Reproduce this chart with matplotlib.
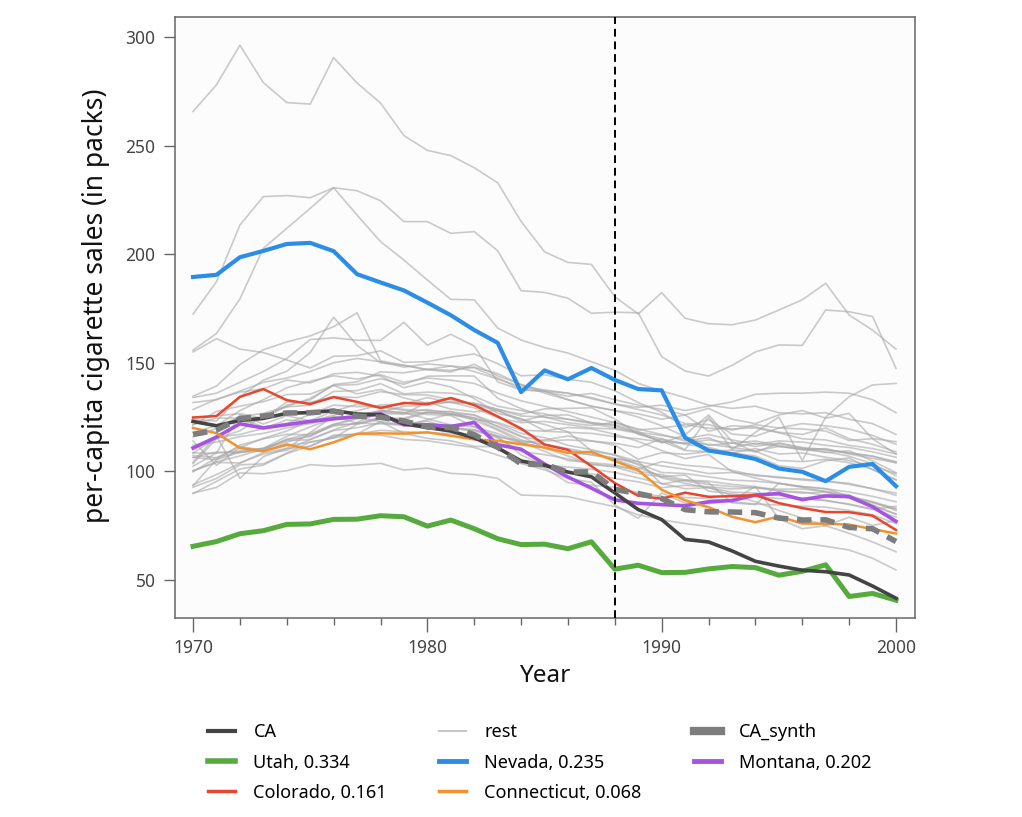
import matplotlib
matplotlib.use("Agg")
import matplotlib.pyplot as plt
from matplotlib.lines import Line2D

plt.rcParams['font.family'] = ['Noto Sans', 'DejaVu Sans']

years = list(range(1970, 2001))
treat_year = 1988

# treated unit and its synthetic copy
ca = [123.0, 121.0, 123.5, 124.4, 126.7, 127.1, 128.0, 126.4, 126.1, 121.9, 120.2, 118.6, 115.4, 110.8, 104.8, 102.8,
      99.7, 97.5, 90.1, 82.4, 77.8, 68.7, 67.5, 63.4, 58.6, 56.4, 54.5, 53.8, 52.3, 47.2, 41.6]
ca_synth = [117.0, 119.0, 124.3, 125.5, 126.9, 127.0, 127.8, 125.4, 124.9, 123.2, 120.4, 120.2, 116.9, 111.1, 103.4, 103.2,
            99.7, 99.8, 91.7, 89.8, 87.5, 82.4, 81.4, 81.3, 81.0, 78.5, 77.6, 77.7, 74.2, 73.6, 67.7]

# donors with weight
utah = [65.5, 67.7, 71.3, 72.7, 75.6, 75.8, 77.9, 78.0, 79.6, 79.1, 74.8, 77.6, 73.6, 69.0, 66.3, 66.5,
        64.4, 67.6, 55.0, 56.8, 53.4, 53.5, 55.1, 56.2, 55.7, 52.2, 54.0, 57.0, 42.4, 43.8, 40.7]
nevada = [189.5, 190.5, 198.6, 201.5, 204.7, 205.2, 201.4, 190.8, 187.0, 183.3, 177.7, 171.9, 165.1, 159.2, 136.5, 146.5,
          142.4, 147.6, 142.1, 137.9, 137.3, 115.5, 109.6, 107.9, 105.7, 101.3, 99.8, 95.5, 102.1, 103.4, 93.2]
montana = [110.8, 115.8, 121.9, 120.0, 121.5, 123.0, 124.2, 125.2, 126.5, 121.4, 121.5, 120.7, 122.5, 112.3, 110.2, 103.4,
           97.4, 92.3, 86.9, 85.3, 84.7, 84.2, 86.0, 86.6, 89.1, 89.8, 87.0, 88.7, 88.4, 83.7, 77.0]
colorado = [124.8, 125.5, 134.3, 137.9, 132.8, 131.0, 134.2, 132.0, 129.2, 131.5, 131.0, 133.8, 130.5, 125.3, 119.7, 112.4,
            109.9, 102.4, 94.6, 88.8, 87.4, 90.2, 88.3, 88.6, 89.1, 85.4, 83.1, 81.3, 81.2, 79.6, 73.0]
connecticut = [120.0, 117.6, 110.8, 109.3, 112.4, 110.2, 113.4, 117.3, 117.5, 117.4, 118.0, 116.4, 114.7, 114.1, 112.5, 111.0,
               108.5, 109.0, 104.8, 100.6, 91.5, 86.7, 83.5, 79.1, 76.6, 79.3, 76.0, 75.9, 75.5, 73.4, 71.4]

donor_labels = ['Utah, 0.334', 'Nevada, 0.235', 'Montana, 0.202', 'Colorado, 0.161', 'Connecticut, 0.068']

# the other states
new_hampshire = [265.7, 278.0, 296.2, 279.0, 269.8, 269.1, 290.5, 278.8, 269.6, 254.6, 247.8, 245.4, 239.8, 232.9, 215.1, 201.1,
                 196.2, 195.3, 180.4, 172.5, 182.3, 170.5, 168.0, 167.5, 169.7, 174.3, 179.0, 186.6, 172.0, 165.0, 156.3]
north_carolina = [172.4, 187.3, 213.4, 226.5, 227.0, 226.0, 230.6, 229.2, 224.6, 215.0, 215.0, 209.6, 210.4, 201.6, 183.2, 182.4,
                  179.7, 172.8, 173.3, 173.0, 152.8, 146.2, 143.9, 148.8, 155.0, 158.2, 158.0, 174.3, 173.5, 171.3, 147.4]
kentucky = [155.8, 163.5, 179.4, 202.7, 211.9, 221.1, 230.6, 218.0, 205.8, 197.3, 188.1, 179.2, 179.0, 166.0, 160.5, 157.0,
            154.5, 150.5, 146.5, 140.5, 137.0, 134.0, 130.5, 129.0, 130.0, 127.0, 126.5, 127.0, 124.0, 122.0, 117.0]
delaware = [155.0, 161.1, 156.3, 154.7, 151.3, 147.6, 153.0, 153.3, 155.5, 150.2, 150.5, 152.6, 154.1, 149.6, 144.0, 144.5,
            142.4, 141.0, 137.1, 131.7, 127.2, 120.3, 123.8, 117.2, 116.2, 120.0, 119.5, 118.6, 114.2, 115.1, 113.7]
vermont = [134.0, 136.0, 141.0, 146.0, 152.0, 160.7, 161.5, 160.4, 160.3, 168.6, 158.1, 163.1, 157.7, 141.2, 137.5, 137.0,
           136.0, 134.0, 131.0, 129.5, 130.5, 128.0, 130.0, 132.0, 135.5, 136.0, 136.0, 136.5, 136.0, 133.0, 127.0]
indiana = [134.6, 139.3, 149.2, 156.0, 159.6, 162.4, 166.6, 173.0, 150.9, 148.9, 146.9, 148.5, 147.7, 143.0, 137.8, 136.7,
           134.6, 135.9, 133.0, 130.5, 128.5, 126.0, 129.0, 124.0, 122.0, 126.0, 128.0, 124.5, 126.7, 115.0, 108.0]
rhode_island = [123.9, 123.2, 134.4, 142.0, 146.1, 154.7, 171.0, 158.0, 150.0, 148.8, 146.8, 145.8, 149.3, 144.0, 140.0, 136.0,
                133.0, 130.0, 128.0, 125.0, 121.0, 116.0, 112.0, 113.0, 114.0, 112.0, 110.0, 110.5, 108.0, 106.0, 104.0]
new_mexico = [90.0, 92.6, 99.3, 98.9, 100.3, 103.1, 102.4, 102.9, 103.7, 100.6, 101.5, 99.1, 98.5, 96.8, 89.1, 88.8,
              88.4, 86.0, 83.8, 80.0, 77.7, 76.0, 74.6, 72.5, 70.5, 68.4, 67.0, 65.5, 63.8, 60.0, 54.6]
alabama = [89.8, 95.4, 101.1, 102.9, 108.2, 111.7, 116.2, 117.1, 123.0, 121.4, 123.2, 119.6, 119.1, 116.3, 113.0, 114.5,
           116.3, 114.0, 112.1, 105.6, 108.6, 107.9, 109.1, 108.5, 107.1, 102.6, 101.4, 104.9, 106.2, 100.7, 96.2]
arkansas = [100.3, 104.1, 103.9, 108.0, 109.7, 114.8, 119.1, 122.6, 127.3, 126.5, 131.8, 128.7, 127.4, 128.0, 123.1, 125.8,
            126.0, 122.3, 121.5, 118.3, 113.1, 116.8, 126.0, 113.8, 108.8, 113.0, 110.7, 108.7, 109.5, 104.8, 99.4]
georgia = [109.9, 115.7, 117.0, 119.8, 123.7, 122.9, 125.9, 127.9, 130.6, 131.0, 134.0, 131.7, 131.2, 128.6, 126.3, 128.8,
           129.0, 129.3, 124.1, 117.1, 113.8, 109.6, 109.1, 109.8, 109.3, 105.0, 104.5, 105.6, 104.0, 101.0, 96.0]
idaho = [102.4, 108.5, 126.1, 121.8, 125.6, 123.3, 125.1, 125.0, 122.8, 117.5, 115.2, 114.1, 111.5, 111.3, 103.6, 100.7,
         96.7, 95.0, 84.5, 78.4, 90.1, 85.4, 85.1, 86.7, 93.0, 78.2, 73.6, 75.0, 78.9, 75.1, 77.4]
illinois = [124.8, 125.6, 126.6, 124.4, 131.9, 131.8, 134.4, 134.0, 136.7, 135.3, 135.2, 133.0, 130.7, 127.9, 124.0, 121.6,
            118.2, 109.5, 107.6, 104.6, 94.1, 96.1, 94.8, 85.5, 84.7, 94.5, 92.6, 90.6, 87.6, 84.4, 80.3]
iowa = [108.5, 108.4, 109.4, 110.6, 116.1, 120.5, 124.4, 125.7, 127.9, 127.1, 124.2, 121.4, 120.5, 116.1, 107.6, 102.6,
        99.3, 98.9, 96.7, 95.2, 92.5, 93.6, 92.9, 91.9, 92.5, 91.8, 91.9, 90.8, 89.1, 84.4, 80.3]
kansas = [114.0, 102.8, 111.0, 115.2, 118.6, 123.4, 127.7, 130.9, 129.4, 128.2, 126.2, 125.7, 120.5, 117.4, 113.1, 111.0,
          108.4, 107.8, 105.4, 101.8, 97.6, 98.3, 90.9, 89.7, 88.4, 87.5, 87.7, 86.7, 84.7, 82.6, 83.9]
louisiana = [115.9, 119.8, 125.3, 126.7, 129.9, 133.6, 139.6, 140.0, 142.7, 140.1, 143.8, 144.0, 143.9, 133.7, 128.9, 125.0,
             122.4, 121.1, 122.6, 119.1, 119.9, 121.5, 119.9, 119.6, 120.0, 117.8, 115.0, 114.5, 112.0, 110.5, 108.0]
maine = [128.5, 133.2, 136.5, 138.0, 142.1, 140.7, 144.9, 145.6, 143.9, 138.5, 141.2, 138.9, 133.5, 126.7, 124.3, 118.7,
         120.2, 119.6, 117.1, 113.8, 109.6, 105.9, 107.8, 99.9, 96.9, 94.5, 93.0, 92.0, 88.5, 86.0, 82.0]
minnesota = [104.3, 116.4, 96.8, 106.8, 110.6, 111.5, 116.7, 117.2, 118.9, 118.3, 117.7, 117.4, 116.1, 111.2, 104.1, 101.6,
             94.8, 93.6, 92.7, 90.2, 88.4, 88.0, 87.5, 86.0, 85.0, 84.5, 84.0, 83.5, 82.0, 80.0, 76.0]
mississippi = [93.4, 105.4, 112.1, 115.0, 117.1, 116.8, 120.9, 122.1, 124.9, 123.9, 127.0, 126.4, 124.8, 120.9, 116.3, 110.6,
               107.1, 103.1, 102.3, 101.1, 104.5, 102.8, 102.0, 100.5, 98.0, 97.5, 96.0, 95.5, 94.0, 92.0, 90.0]
missouri = [121.3, 127.6, 130.0, 132.1, 135.4, 135.6, 139.5, 135.7, 137.7, 133.8, 131.4, 131.9, 129.2, 124.7, 122.4, 123.0,
            121.5, 120.0, 119.5, 117.5, 114.0, 113.0, 114.5, 113.0, 111.5, 113.0, 111.0, 110.0, 108.5, 107.0, 104.0]
nebraska = [100.3, 104.4, 107.1, 110.3, 113.5, 116.5, 121.6, 121.8, 124.5, 123.1, 120.1, 120.0, 119.2, 115.4, 109.2, 107.7,
            105.8, 103.5, 102.0, 99.0, 97.5, 95.5, 94.0, 93.0, 92.5, 91.0, 90.5, 89.0, 88.5, 86.0, 83.0]
north_dakota = [93.8, 98.5, 103.8, 108.7, 110.5, 117.9, 125.4, 122.2, 121.9, 121.3, 123.7, 126.5, 123.5, 119.0, 113.5, 109.2,
                105.0, 104.0, 103.0, 100.0, 98.5, 96.0, 95.5, 94.0, 93.0, 91.0, 90.0, 90.5, 88.0, 85.5, 82.5]
ohio = [121.6, 124.6, 124.4, 120.5, 122.1, 126.2, 130.5, 129.8, 130.0, 128.5, 128.0, 127.5, 124.0, 122.5, 119.0, 118.5,
        118.0, 117.5, 116.0, 115.0, 113.5, 113.0, 112.5, 111.0, 113.0, 111.5, 110.5, 110.0, 108.5, 107.0, 104.5]
oklahoma = [108.4, 115.4, 121.7, 124.1, 130.5, 132.9, 140.0, 141.2, 145.8, 145.4, 147.0, 146.5, 148.0, 145.0, 140.0, 137.0,
            133.0, 130.0, 128.0, 126.5, 124.0, 126.0, 118.5, 121.0, 120.5, 118.0, 117.0, 120.0, 115.0, 112.5, 109.0]
pennsylvania = [107.3, 106.3, 109.0, 110.7, 114.2, 114.6, 118.8, 120.1, 122.3, 121.5, 121.0, 120.0, 118.5, 116.0, 114.0, 112.5,
                110.5, 108.5, 106.0, 103.5, 99.5, 99.0, 97.5, 96.0, 95.5, 94.5, 93.0, 92.0, 90.5, 88.5, 86.0]
south_carolina = [103.6, 115.0, 118.7, 125.5, 129.7, 130.5, 136.8, 137.2, 140.4, 135.7, 136.5, 136.0, 134.5, 130.0, 128.0, 126.5,
                  124.0, 122.0, 120.0, 118.0, 116.5, 115.0, 117.0, 114.5, 112.5, 114.0, 113.5, 112.0, 111.0, 109.0, 106.5]
south_dakota = [92.7, 96.7, 103.0, 103.5, 108.4, 113.5, 115.4, 121.7, 124.1, 124.5, 127.5, 126.0, 124.5, 119.5, 114.5, 112.0,
                110.0, 107.5, 106.0, 104.5, 102.5, 101.0, 99.0, 99.5, 98.5, 97.0, 96.5, 95.5, 94.5, 92.0, 89.0]
tennessee = [99.8, 106.3, 111.5, 109.7, 114.8, 117.4, 121.7, 124.6, 127.3, 130.0, 130.5, 132.0, 131.5, 128.5, 125.5, 125.0,
             124.0, 122.5, 121.0, 117.5, 115.0, 112.5, 111.0, 108.5, 110.5, 108.0, 108.5, 106.5, 105.0, 102.5, 99.0]
texas = [106.4, 108.9, 108.6, 110.4, 114.7, 116.0, 121.4, 124.2, 126.6, 126.4, 127.0, 127.5, 126.0, 122.0, 117.5, 115.5,
         112.0, 110.0, 107.5, 103.0, 97.0, 94.5, 92.5, 89.0, 86.0, 82.0, 78.5, 75.0, 71.5, 67.5, 63.0]
virginia = [118.0, 121.0, 128.0, 133.0, 138.5, 141.5, 144.0, 142.5, 144.5, 141.0, 143.0, 142.0, 140.5, 136.0, 132.5, 130.0,
            127.5, 125.0, 122.5, 119.5, 117.0, 114.0, 115.5, 111.0, 109.5, 111.5, 110.0, 109.0, 107.0, 103.5, 98.0]
west_virginia = [112.0, 113.5, 116.0, 117.5, 120.0, 122.0, 124.5, 125.5, 128.0, 127.0, 128.5, 126.5, 126.0, 120.5, 116.0, 114.0,
                 114.5, 114.0, 113.0, 111.0, 115.0, 110.0, 125.0, 110.0, 118.0, 125.0, 105.0, 125.0, 134.4, 139.8, 140.5]
wisconsin = [106.4, 105.4, 108.8, 109.5, 111.8, 113.5, 115.4, 117.2, 116.7, 114.7, 114.1, 112.5, 111.0, 107.5, 104.0, 103.0,
             102.0, 101.0, 99.5, 97.0, 94.5, 92.0, 92.5, 90.5, 90.0, 89.0, 87.5, 86.5, 85.0, 82.5, 79.0]
wyoming = [131.7, 133.0, 137.0, 141.0, 143.0, 146.0, 150.0, 152.0, 150.5, 148.0, 149.5, 148.5, 146.0, 142.5, 139.0, 137.5,
           136.0, 133.5, 131.0, 128.5, 126.0, 122.0, 121.5, 119.0, 121.5, 120.0, 122.0, 121.0, 119.5, 116.5, 112.5]

rest = [new_hampshire, north_carolina, kentucky, delaware, vermont, indiana, rhode_island, new_mexico,
        alabama, arkansas, georgia, idaho, illinois, iowa, kansas, louisiana, maine, minnesota, mississippi,
        missouri, nebraska, north_dakota, ohio, oklahoma, pennsylvania, south_carolina, south_dakota,
        tennessee, texas, virginia, west_virginia, wisconsin, wyoming]

c_ca = '#444444'
c_synth = '#7d7d7d'
c_rest = '#a8a8a8'
c_utah = '#57aa3d'
c_nevada = '#2c8de6'
c_montana = '#a653e3'
c_colorado = '#e7452d'
c_connecticut = '#f2922f'

fig = plt.figure(figsize=(10.22, 8.17), dpi=100)
ax = fig.add_axes([175 / 1022, 1 - 618 / 817, 740 / 1022, 601 / 817])
ax.set_facecolor('#fcfcfc')

for s in rest:
    ax.plot(years, s, color=c_rest, lw=1.2, alpha=0.6, zorder=1)

ax.plot(years, utah, color=c_utah, lw=3.6, zorder=3)
ax.plot(years, nevada, color=c_nevada, lw=3.0, zorder=3)
ax.plot(years, montana, color=c_montana, lw=2.6, zorder=3)
ax.plot(years, colorado, color=c_colorado, lw=1.8, zorder=3)
ax.plot(years, connecticut, color=c_connecticut, lw=1.8, zorder=3)
ax.plot(years, ca, color=c_ca, lw=2.6, zorder=4)
ax.plot(years, ca_synth, color=c_synth, lw=4.0, dashes=(2.6, 1.6), zorder=5)

ax.axvline(treat_year, color='black', lw=1.4, ls=(0, (4, 2.5)), zorder=6)

ax.set_xlim(1969.23, 2000.81)
ax.set_ylim(32.5, 309.2)
ax.set_xticks([1970, 1980, 1990, 2000])
ax.set_xticks(list(range(1970, 2001, 2)), minor=True)
ax.set_yticks([50, 100, 150, 200, 250, 300])

for sp in ax.spines.values():
    sp.set_color('#666666')
    sp.set_linewidth(1.1)
ax.tick_params(axis='x', which='major', length=10, width=1, color='#666666', labelsize=12.5, labelcolor='#444444', pad=5)
ax.tick_params(axis='x', which='minor', length=5, width=1, color='#666666')
ax.tick_params(axis='y', which='major', length=8, width=1, color='#666666', labelsize=12.5, labelcolor='#444444', pad=6)

ax.set_xlabel('Year', fontsize=17.5, color='#111111', labelpad=5)
ax.set_ylabel('per-capita cigarette sales (in packs)', fontsize=19, color='#111111')
ax.yaxis.set_label_coords((110 - 175) / 740, 0.52)

handles = [
    Line2D([], [], color=c_ca, lw=3),
    Line2D([], [], color=c_utah, lw=4),
    Line2D([], [], color=c_colorado, lw=2.5),
    Line2D([], [], color='#c8c8c8', lw=1.5),
    Line2D([], [], color=c_nevada, lw=3.5),
    Line2D([], [], color=c_connecticut, lw=2.5),
    Line2D([], [], color=c_synth, lw=6),
    Line2D([], [], color=c_montana, lw=3.5),
]
labels = ['CA', donor_labels[0], donor_labels[3], 'rest', donor_labels[1], donor_labels[4], 'CA_synth', donor_labels[2]]
fig.legend(handles, labels, loc='upper center', bbox_to_anchor=(540 / 1022, 1 - 707 / 817), ncol=3,
           frameon=False, fontsize=13, handlelength=1.5, columnspacing=2.9, labelspacing=0.68, handletextpad=1.0)

fig.savefig('out.png', dpi=100)
